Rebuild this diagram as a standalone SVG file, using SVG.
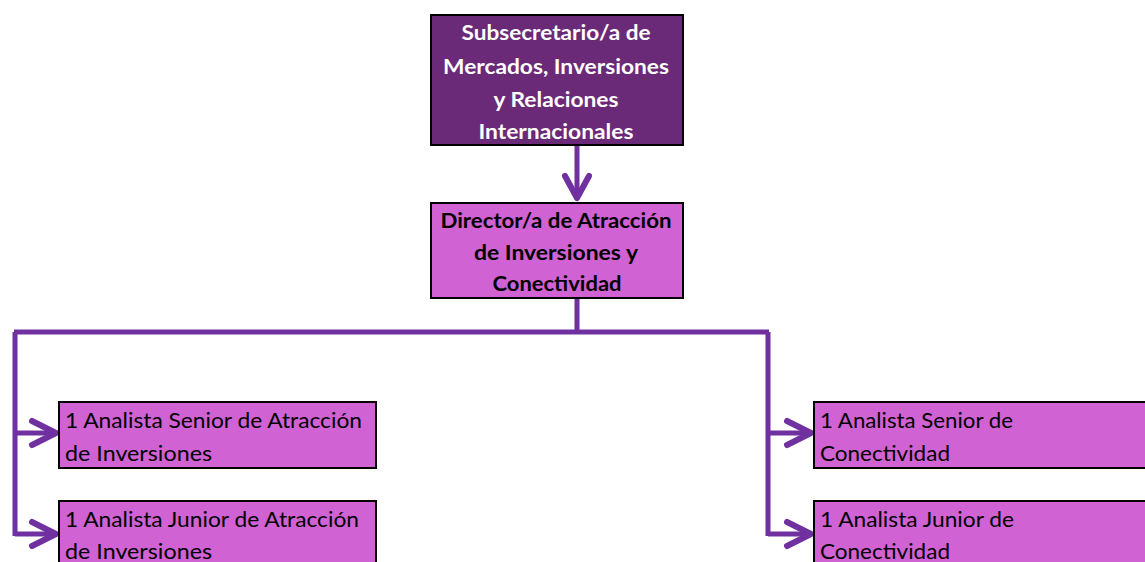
<svg xmlns="http://www.w3.org/2000/svg" width="1145" height="562" viewBox="0 0 1145 562">
<style>
.box{stroke:#000;stroke-width:2}
.top{fill:#6B2A78}
.pink{fill:#D162D4}
.tw{font-family:Lato,"Open Sans","Liberation Sans",sans-serif;font-weight:bold;font-size:20.5px;fill:#fff;text-anchor:middle}
.tb{font-family:Lato,"Open Sans","Liberation Sans",sans-serif;font-weight:bold;font-size:20.5px;fill:#000;text-anchor:middle}
.tl{font-family:Lato,"Open Sans","Liberation Sans",sans-serif;font-size:21px;fill:#000}
.ln{fill:none;stroke:#7030A0;stroke-width:5}
.hd{fill:none;stroke:#7030A0;stroke-width:6;stroke-linecap:round;stroke-linejoin:round}
</style>
<rect width="1145" height="562" fill="#fff"/>
<g id="connectors">
<path class="ln" d="M577,145 V196"/>
<polyline class="hd" points="565,176 577,198 589,176"/>
<path class="ln" d="M577,298 V332 M14,332 H769 M15,332 V536 M768,332 V536"/>
<path class="ln" d="M15,433 H54 M15,534 H54 M768,433 H810 M768,534 H810"/>
<polyline class="hd" points="32,421 56,433 32,445"/>
<polyline class="hd" points="32,522 56,534 32,546"/>
<polyline class="hd" points="787,421 811,433 787,445"/>
<polyline class="hd" points="787,522 811,534 787,546"/>
</g>
<g id="subsecretario">
<rect class="box top" x="431" y="15" width="252" height="130"/>
<text class="tw" x="556" y="40" textLength="189" lengthAdjust="spacingAndGlyphs">Subsecretario/a de</text>
<text class="tw" x="556" y="74" textLength="226" lengthAdjust="spacingAndGlyphs">Mercados, Inversiones</text>
<text class="tw" x="556" y="107" textLength="125" lengthAdjust="spacingAndGlyphs">y Relaciones</text>
<text class="tw" x="556" y="139" textLength="155" lengthAdjust="spacingAndGlyphs">Internacionales</text>
</g>
<g id="director">
<rect class="box pink" x="431" y="203" width="252" height="95"/>
<text class="tb" x="556" y="228" textLength="231" lengthAdjust="spacingAndGlyphs">Director/a de Atracción</text>
<text class="tb" x="556" y="260" textLength="164" lengthAdjust="spacingAndGlyphs">de Inversiones y</text>
<text class="tb" x="557" y="291" textLength="129" lengthAdjust="spacingAndGlyphs">Conectividad</text>
</g>
<g id="senior-atraccion">
<rect class="box pink" x="59" y="402" width="317" height="66"/>
<text class="tl" x="65" y="428" textLength="297" lengthAdjust="spacingAndGlyphs">1 Analista Senior de Atracción</text>
<text class="tl" x="65" y="461" textLength="147" lengthAdjust="spacingAndGlyphs">de Inversiones</text>
</g>
<g id="junior-atraccion">
<rect class="box pink" x="59" y="501" width="317" height="70"/>
<text class="tl" x="65" y="527" textLength="294" lengthAdjust="spacingAndGlyphs">1 Analista Junior de Atracción</text>
<text class="tl" x="65" y="559" textLength="147" lengthAdjust="spacingAndGlyphs">de Inversiones</text>
</g>
<g id="senior-conectividad">
<rect class="box pink" x="814" y="402" width="340" height="66"/>
<text class="tl" x="820" y="428" textLength="193" lengthAdjust="spacingAndGlyphs">1 Analista Senior de</text>
<text class="tl" x="820" y="461" textLength="130" lengthAdjust="spacingAndGlyphs">Conectividad</text>
</g>
<g id="junior-conectividad">
<rect class="box pink" x="814" y="501" width="340" height="70"/>
<text class="tl" x="820" y="527" textLength="194" lengthAdjust="spacingAndGlyphs">1 Analista Junior de</text>
<text class="tl" x="820" y="559" textLength="130" lengthAdjust="spacingAndGlyphs">Conectividad</text>
</g>
</svg>
